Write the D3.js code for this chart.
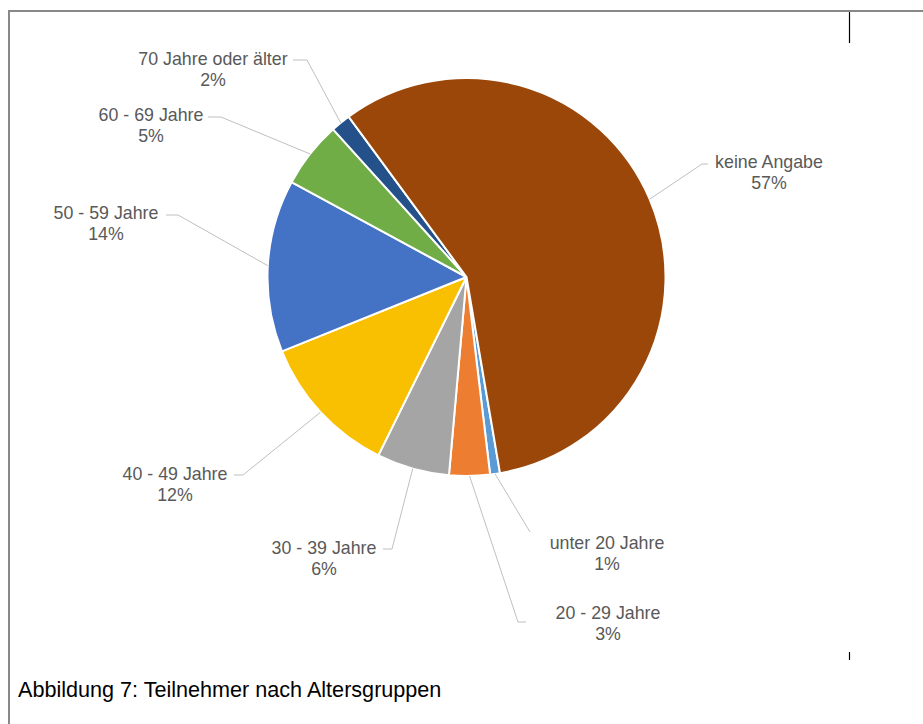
<!DOCTYPE html>
<html>
<head>
<meta charset="utf-8">
<script src="https://cdn.jsdelivr.net/npm/d3@7"></script>
<style>
  html, body { margin: 0; padding: 0; background: #fff; }
  svg { display: block; }
</style>
</head>
<body>
<svg id="chart" width="923" height="724"></svg>
<script>
// ---- data ----
const categories = ["unter 20 Jahre", "20 - 29 Jahre", "30 - 39 Jahre", "40 - 49 Jahre",
                    "50 - 59 Jahre", "60 - 69 Jahre", "70 Jahre oder älter", "keine Angabe"];
const shares = [0.8, 3.3, 5.9, 11.6, 14.0, 5.4, 1.6, 57.4];
const colors = ["#5B9BD5", "#ED7D31", "#A5A5A5", "#F8C000", "#4472C4", "#70AD47", "#245189", "#9A4709"];
const caption = "Abbildung 7: Teilnehmer nach Altersgruppen";

// ---- layout (label placement, not data) ----
const labelLayout = [
  { lx: 607, ly: 543, elbow: [530, 532], end: [530, 532] },
  { lx: 608, ly: 613, elbow: [518, 622], end: [526, 622] },
  { lx: 324, ly: 548, elbow: [392, 549], end: [383, 549] },
  { lx: 175, ly: 474, elbow: [243, 475], end: [234, 475] },
  { lx: 106, ly: 213, elbow: [178, 215], end: [166, 215] },
  { lx: 151, ly: 115, elbow: [221, 117], end: [208, 117] },
  { lx: 213, ly: 59,  elbow: [307, 60],  end: [293, 60] },
  { lx: 769, ly: 162, elbow: [702, 164], end: [708, 164] }
];

const svg = d3.select("#chart");
const cx = 466.5, cy = 277, R = 199;

// frame
svg.append("line").attr("x1", 9).attr("y1", 11).attr("x2", 923).attr("y2", 11)
  .attr("stroke", "#888").attr("stroke-width", 2);
svg.append("line").attr("x1", 9).attr("y1", 10).attr("x2", 9).attr("y2", 724)
  .attr("stroke", "#888").attr("stroke-width", 2);
svg.append("line").attr("x1", 849.5).attr("y1", 12).attr("x2", 849.5).attr("y2", 43)
  .attr("stroke", "#000").attr("stroke-width", 1.2);
svg.append("line").attr("x1", 849.5).attr("y1", 652).attr("x2", 849.5).attr("y2", 660)
  .attr("stroke", "#000").attr("stroke-width", 1.2);

const startDeg = 170.3;
const pie = d3.pie().sort(null).value(d => d)
  .startAngle(startDeg * Math.PI / 180)
  .endAngle(startDeg * Math.PI / 180 + 2 * Math.PI);
const arcs = pie(shares);
const arc = d3.arc().innerRadius(0).outerRadius(R);

const g = svg.append("g").attr("transform", `translate(${cx},${cy})`);
g.selectAll("path.slice").data(arcs).enter().append("path")
  .attr("class", "slice")
  .attr("d", arc)
  .attr("fill", (d, i) => colors[i])
  .attr("stroke", "#fff")
  .attr("stroke-width", 2)
  .attr("stroke-linejoin", "round");

// leader lines
const edgePoint = d => {
  const a = (d.startAngle + d.endAngle) / 2;
  return [cx + R * Math.sin(a), cy - R * Math.cos(a)];
};
svg.selectAll("polyline.leader").data(arcs).enter().append("polyline")
  .attr("class", "leader")
  .attr("points", (d, i) => {
    const p = edgePoint(d), L = labelLayout[i];
    return [p, L.elbow, L.end].map(q => q.join(",")).join(" ");
  })
  .attr("fill", "none")
  .attr("stroke", "#BFBFBF")
  .attr("stroke-width", 1);

// labels
const lbl = svg.selectAll("g.label").data(arcs).enter().append("g").attr("class", "label");
lbl.append("text")
  .attr("x", (d, i) => labelLayout[i].lx)
  .attr("y", (d, i) => labelLayout[i].ly)
  .attr("dy", "0.35em")
  .attr("text-anchor", "middle")
  .attr("font-family", "'Liberation Sans', Arial, sans-serif")
  .attr("font-size", "17.8px")
  .attr("fill", "#595959")
  .text((d, i) => categories[i]);
lbl.append("text")
  .attr("x", (d, i) => labelLayout[i].lx)
  .attr("y", (d, i) => labelLayout[i].ly + 21)
  .attr("dy", "0.35em")
  .attr("text-anchor", "middle")
  .attr("font-family", "'Liberation Sans', Arial, sans-serif")
  .attr("font-size", "17.8px")
  .attr("fill", "#595959")
  .text(d => Math.round(d.data) + "%");

// caption
svg.append("text")
  .attr("x", 18).attr("y", 689).attr("dy", "0.35em")
  .attr("font-family", "'Liberation Sans', Arial, sans-serif")
  .attr("font-size", "21.6px")
  .attr("fill", "#000")
  .text(caption);
</script>
</body>
</html>
